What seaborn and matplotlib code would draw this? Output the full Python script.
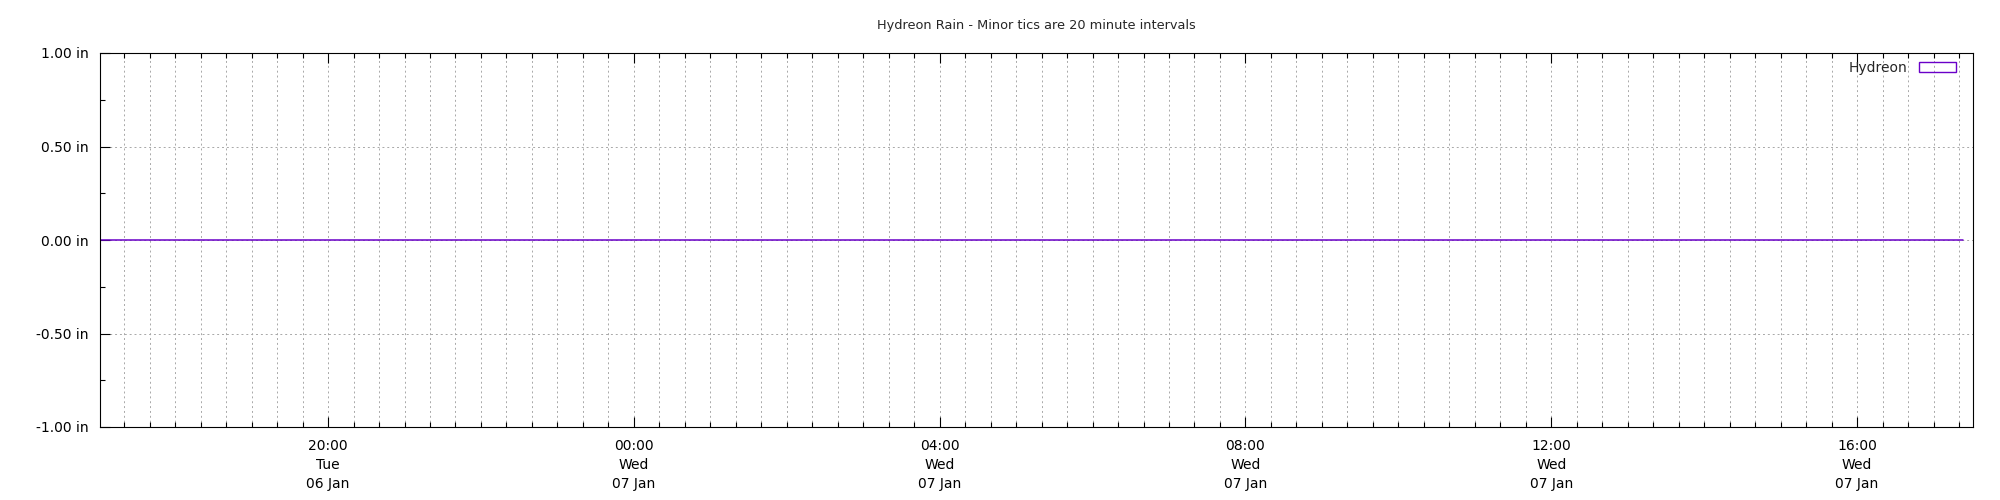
import matplotlib
matplotlib.use("Agg")
import matplotlib.pyplot as plt
import matplotlib.dates as mdates
from matplotlib.ticker import MultipleLocator, FuncFormatter
from matplotlib.patches import Patch
import pandas as pd
import seaborn as sns

# ---- data ----
times = ["2026-01-06 17:01", "2026-01-06 21:00", "2026-01-07 01:00",
         "2026-01-07 05:00", "2026-01-07 09:00", "2026-01-07 13:00",
         "2026-01-07 17:23"]
rain_in = [0.0, 0.0, 0.0, 0.0, 0.0, 0.0, 0.0]
series_label = "Hydreon"
title = "Hydreon Rain - Minor tics are 20 minute intervals"
x_start = "2026-01-06 17:01"
x_end = "2026-01-07 17:31"
y_min, y_max = -1.0, 1.0

df = pd.DataFrame({"time": pd.to_datetime(times), "rain": rain_in})

sns.set_style("ticks")
plt.rcParams["font.family"] = ["DejaVu Sans"]

color = "#6a00c8"
fig = plt.figure(figsize=(20, 5), dpi=100)
ax = fig.add_axes([100 / 2000, 1 - 427 / 500, 1873 / 2000, 374 / 500])

sns.lineplot(data=df, x="time", y="rain", ax=ax, color=color, linewidth=1.1,
             label=series_label, legend=False)

ax.set_xlim(pd.Timestamp(x_start), pd.Timestamp(x_end))
ax.set_ylim(y_min, y_max)
ax.set_xlabel("")
ax.set_ylabel("")

ax.xaxis.set_major_locator(mdates.HourLocator(byhour=range(0, 24, 4)))
ax.xaxis.set_minor_locator(mdates.MinuteLocator(byminute=[0, 20, 40]))
ax.xaxis.set_major_formatter(mdates.DateFormatter("%H:%M\n%a\n%d %b"))
ax.yaxis.set_major_locator(MultipleLocator(0.5))
ax.yaxis.set_minor_locator(MultipleLocator(0.25))
ax.yaxis.set_major_formatter(FuncFormatter(lambda v, p: f"{v + 0.0:.2f} in"))

grid_kw = dict(color="#a8a8a8", linewidth=0.7, linestyle=(0, (2, 3)))
ax.grid(True, which="both", axis="x", **grid_kw)
ax.grid(True, which="major", axis="y", **grid_kw)
ax.set_axisbelow(True)

for s in ax.spines.values():
    s.set_visible(True)
    s.set_linewidth(0.8)
    s.set_color("black")

ax.tick_params(axis="x", which="both", direction="in", top=True, bottom=True,
               labelsize=10, colors="black", width=0.8)
ax.tick_params(axis="x", which="major", length=7.2, pad=9)
ax.tick_params(axis="x", which="minor", length=3.6)
ax.tick_params(axis="y", which="both", direction="in", left=True, right=False,
               labelsize=10, colors="black", width=0.8)
ax.tick_params(axis="y", which="major", length=7.2, pad=8)
ax.tick_params(axis="y", which="minor", length=3.6)
for lbl in ax.get_xticklabels():
    lbl.set_multialignment("center")
    lbl.set_linespacing(1.42)

fig.text(1036 / 2000, 1 - 26 / 500, title, ha="center", va="center", fontsize=9.3)

handle = Patch(facecolor="none", edgecolor=color, linewidth=1.0)
ax.legend(handles=[handle], labels=[series_label], loc="upper right",
          bbox_to_anchor=(1956 / 2000, 1 - 61 / 500), bbox_transform=fig.transFigure,
          frameon=False, markerfirst=False, handlelength=2.7, handleheight=0.65,
          handletextpad=0.8, borderpad=0, borderaxespad=0, fontsize=10)

fig.savefig("out.png", dpi=100, facecolor="white")
